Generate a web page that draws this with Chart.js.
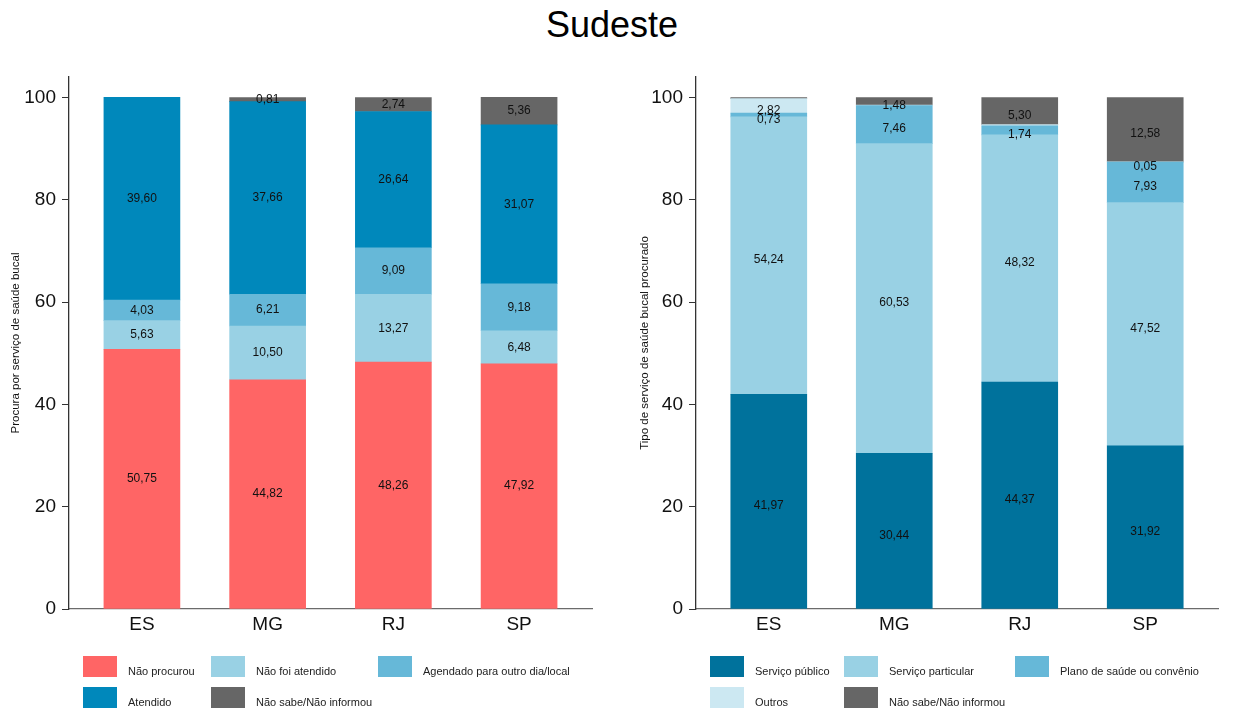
<!DOCTYPE html>
<html>
<head>
<meta charset="utf-8">
<script src="https://cdn.jsdelivr.net/npm/chart.js@4"></script>
<style>
  html, body { margin: 0; padding: 0; background: #fff; }
  body { width: 1242px; height: 711px; position: relative; overflow: hidden; font-family: "Liberation Sans", Arial, sans-serif; }
  #title { position: absolute; left: 0; width: 1224px; top: 4px; text-align: center; font-size: 36px; color: #000; }
  .panel { position: absolute; top: 0; width: 621px; height: 711px; }
  #left { left: 0; }
  #right { left: 621px; }
</style>
</head>
<body>
<div id="title">Sudeste</div>
<div class="panel" id="left"><canvas id="procura" width="621" height="711"></canvas></div>
<div class="panel" id="right"><canvas id="tipo" width="621" height="711"></canvas></div>
<script>
const categories = ['ES', 'MG', 'RJ', 'SP'];
const yTicks = [0, 20, 40, 60, 80, 100];

// Procura por serviço de saúde bucal
const naoProcurou = [50.75, 44.82, 48.26, 47.92];
const naoFoiAtendido = [5.63, 10.50, 13.27, 6.48];
const agendado = [4.03, 6.21, 9.09, 9.18];
const atendido = [39.60, 37.66, 26.64, 31.07];
const naoSabeProcura = [null, 0.81, 2.74, 5.36];

// Tipo de serviço de saúde bucal procurado
const servicoPublico = [41.97, 30.44, 44.37, 31.92];
const servicoParticular = [54.24, 60.53, 48.32, 47.52];
const planoSaude = [0.73, 7.46, 1.74, 7.93];
const outros = [2.82, 0.09, 0.27, 0.05];
const naoSabeTipo = [0.24, 1.48, 5.30, 12.58];
// segments drawn without a value label: [dataset, category]
const unlabelledTipo = [[3, 1], [3, 2], [4, 0]];

const FONT = '"Liberation Sans", Arial, sans-serif';

const valueLabels = {
    id: 'valueLabels',
    afterDatasetsDraw(chart, args, opts) {
        const ctx = chart.ctx;
        ctx.save();
        ctx.font = `12px ${FONT}`;
        ctx.fillStyle = '#111';
        ctx.textAlign = 'center';
        ctx.textBaseline = 'middle';
        chart.data.datasets.forEach((ds, di) => {
            const meta = chart.getDatasetMeta(di);
            meta.data.forEach((bar, ci) => {
                const v = ds.data[ci] ? ds.data[ci].y : null;
                if (v === null || v === undefined) return;
                if ((opts.skip || []).some(([d, c]) => d === di && c === ci)) return;
                const y = (bar.y + bar.base) / 2 + (opts.offset || 0);
                ctx.fillText(v.toFixed(2).replace('.', ','), bar.x, y);
            });
        });
        ctx.restore();
    },
};

const gridLegend = {
    id: 'gridLegend',
    afterDraw(chart, args, opts) {
        const ctx = chart.ctx;
        ctx.save();
        ctx.font = `11px ${FONT}`;
        ctx.textBaseline = 'middle';
        ctx.textAlign = 'left';
        chart.data.datasets.forEach((ds, i) => {
            const x = opts.cols[i % 3];
            const y = opts.top + Math.floor(i / 3) * 31;
            ctx.fillStyle = ds.backgroundColor;
            ctx.fillRect(x, y, 34, 21);
            ctx.fillStyle = '#222';
            ctx.fillText(ds.label, x + 45, y + 16);
        });
        ctx.restore();
    },
};

function series(label, values, color) {
    return {
        label,
        data: values.map((v, i) => ({ x: i, y: v })),
        backgroundColor: color,
        borderWidth: 0,
        barThickness: 76,
    };
}

function makeChart(canvasId, datasets, cfg) {
    return new Chart(document.getElementById(canvasId), {
        type: 'bar',
        data: { datasets },
        options: {
            responsive: false,
            animation: false,
            layout: { padding: { top: 77, right: cfg.padRight, left: 0, bottom: 0 } },
            scales: {
                x: {
                    type: 'linear',
                    stacked: true,
                    offset: false,
                    min: -0.58,
                    max: 3.58,
                    afterBuildTicks: (scale) => {
                        scale.ticks = categories.map((c, i) => ({ value: i }));
                    },
                    afterFit: (scale) => { scale.height = 102; },
                    ticks: {
                        autoSkip: false,
                        maxRotation: 0,
                        padding: 4,
                        color: '#111',
                        font: { family: FONT, size: 19 },
                        callback: (value) => categories[value],
                    },
                    grid: { display: false, drawTicks: false, offset: false },
                    border: { display: true, color: '#6b6b6b', width: 1.3 },
                },
                y: {
                    stacked: true,
                    min: 0,
                    max: 104,
                    afterBuildTicks: (scale) => {
                        scale.ticks = yTicks.map((v) => ({ value: v }));
                    },
                    afterFit: (scale) => { scale.width = cfg.axisLeft; },
                    ticks: {
                        padding: 6,
                        color: '#111',
                        font: { family: FONT, size: 19 },
                    },
                    grid: { drawOnChartArea: false, drawTicks: true, tickLength: 7, color: '#333' },
                    border: { display: true, color: '#333', width: 1.3 },
                    title: {
                        display: true,
                        text: cfg.yTitle,
                        color: '#111',
                        font: { family: FONT, size: 11.5 },
                        padding: { top: cfg.titlePad, bottom: 0 },
                    },
                },
            },
            plugins: {
                legend: { display: false },
                tooltip: { enabled: false },
                valueLabels: { offset: cfg.labelOffset, skip: cfg.skip },
                gridLegend: { cols: cfg.legendCols, top: 656 },
            },
        },
        plugins: [valueLabels, gridLegend],
    });
}

makeChart('procura', [
    series('Não procurou', naoProcurou, '#ff6565'),
    series('Não foi atendido', naoFoiAtendido, '#99d1e4'),
    series('Agendado para outro dia/local', agendado, '#66b8d8'),
    series('Atendido', atendido, '#0088bb'),
    series('Não sabe/Não informou', naoSabeProcura, '#666666'),
], {
    padRight: 29, axisLeft: 69, titlePad: 9, labelOffset: 0, skip: [],
    yTitle: 'Procura por serviço de saúde bucal',
    legendCols: [83, 211, 378],
});

makeChart('tipo', [
    series('Serviço público', servicoPublico, '#00729c'),
    series('Serviço particular', servicoParticular, '#99d1e4'),
    series('Plano de saúde ou convênio', planoSaude, '#66b8d8'),
    series('Outros', outros, '#cce8f2'),
    series('Não sabe/Não informou', naoSabeTipo, '#666666'),
], {
    padRight: 24, axisLeft: 75, titlePad: 17, labelOffset: 4.5, skip: unlabelledTipo,
    yTitle: 'Tipo de serviço de saúde bucal procurado',
    legendCols: [89, 223, 394],
});
</script>
</body>
</html>
